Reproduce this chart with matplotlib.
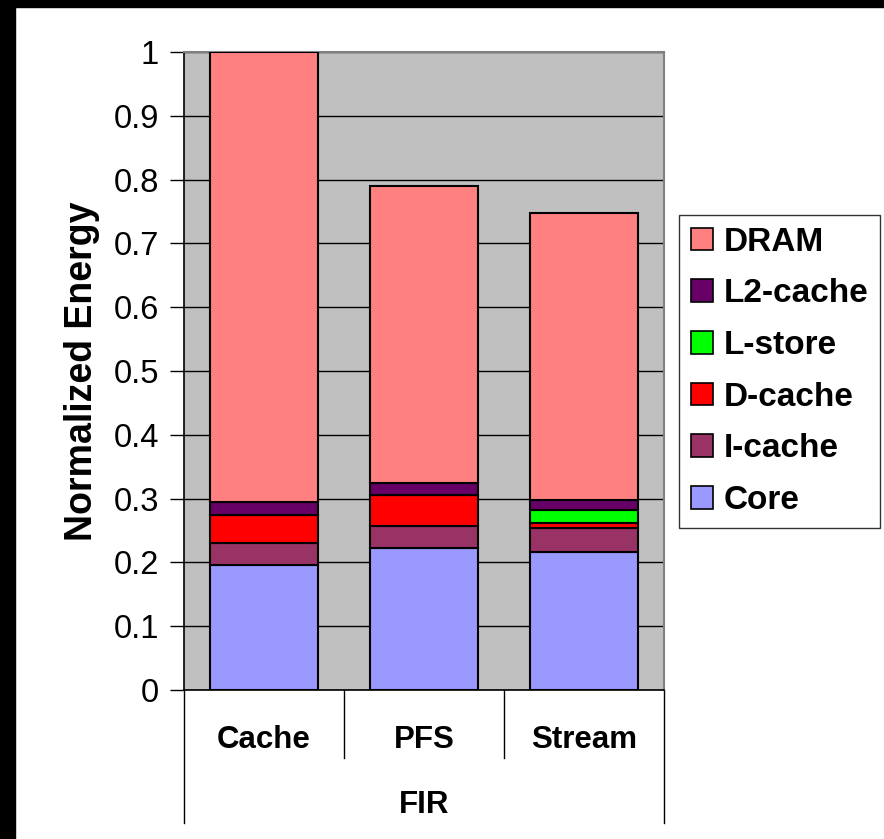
import matplotlib.pyplot as plt
from matplotlib.patches import Patch, Rectangle
import numpy as np

plt.rcParams['font.family'] = ['Liberation Sans', 'DejaVu Sans']

configs = ['Cache', 'PFS', 'Stream']
group = 'FIR'
components = ['Core', 'I-cache', 'D-cache', 'L-store', 'L2-cache', 'DRAM']
core = [0.196, 0.222, 0.217]
icache = [0.035, 0.035, 0.037]
dcache = [0.044, 0.048, 0.007]
lstore = [0.0, 0.0, 0.021]
l2cache = [0.019, 0.019, 0.016]
dram = [0.706, 0.466, 0.450]
colors = ['#9999FF', '#993366', '#FF0000', '#00FF00', '#660066', '#FF8080']
yticks = [0, 0.1, 0.2, 0.3, 0.4, 0.5, 0.6, 0.7, 0.8, 0.9, 1]

fig = plt.figure(figsize=(8.84, 8.39), dpi=100)
ax = fig.add_axes([184 / 884, 1 - 690 / 839, 480 / 884, 638 / 839])
ax.set_facecolor('#C0C0C0')

x = np.arange(len(configs))
bottom = np.zeros(len(configs))
for vals, c, name in zip([core, icache, dcache, lstore, l2cache, dram], colors, components):
    vals = np.array(vals)
    ax.bar(x, vals, width=0.67, bottom=bottom, color=c, edgecolor='black',
           linewidth=1.5, zorder=3, label=name)
    bottom += vals

ax.set_xlim(-0.5, 2.5)
ax.set_ylim(0, 1)
ax.set_yticks(yticks)
ax.set_yticklabels([f'{t:g}' for t in yticks], fontsize=23.5)
ax.yaxis.grid(True, color='black', linewidth=1.0, zorder=0)
ax.set_axisbelow(True)
ax.tick_params(axis='y', length=10, width=1, direction='out', pad=8, color='black')
ax.set_xticks([])
for s in ['top', 'right']:
    ax.spines[s].set_color('#808080')
    ax.spines[s].set_linewidth(1.5)
for s in ['left', 'bottom']:
    ax.spines[s].set_color('black')
    ax.spines[s].set_linewidth(1.2)
ax.set_ylabel('Normalized Energy', fontsize=27, fontweight='bold', labelpad=10)

# category axis below the plot
trans = ax.get_xaxis_transform()
for xs in [-0.5, 0.5, 1.5, 2.5]:
    depth = -0.209 if xs in (-0.5, 2.5) else -0.107
    ax.plot([xs, xs], [0, depth], transform=trans, color='black', lw=1, clip_on=False)
for xi, name in zip(x, configs):
    ax.text(xi, -0.078, name, transform=trans, ha='center', va='center',
            fontsize=22.5, fontweight='bold')
ax.text(1, -0.180, group, transform=trans, ha='center', va='center',
        fontsize=22.5, fontweight='bold')

handles = [Patch(facecolor=c, edgecolor='black', linewidth=1.2) for c in colors][::-1]
leg = fig.legend(handles, components[::-1], loc='upper left',
                 bbox_to_anchor=(679 / 884, 1 - 215 / 839), borderaxespad=0,
                 prop={'size': 24, 'weight': 'bold'}, frameon=True, fancybox=False,
                 edgecolor='black', handlelength=0.68, handleheight=0.68,
                 handletextpad=0.3, labelspacing=0.62, borderpad=0.35)
leg.get_frame().set_linewidth(1.0)

# dark frame along the top and left edges
fig.patches.append(Rectangle((0, 1 - 7 / 839), 1, 7 / 839, transform=fig.transFigure,
                             color='black', zorder=10))
fig.patches.append(Rectangle((0, 0), 15 / 884, 1, transform=fig.transFigure,
                             color='black', zorder=10))

fig.savefig('out.png', dpi=100)
